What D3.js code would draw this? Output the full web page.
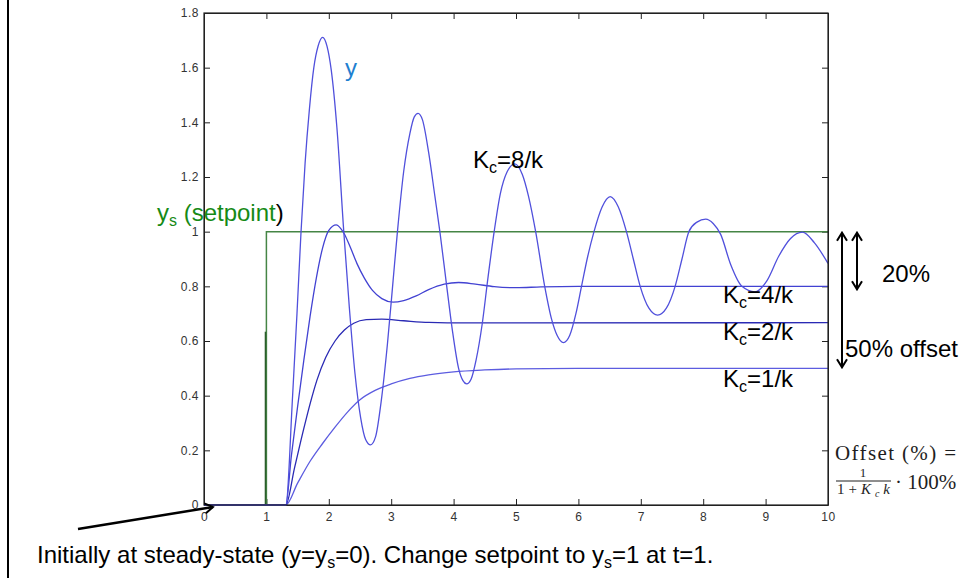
<!DOCTYPE html>
<html>
<head>
<meta charset="utf-8">
<script src="https://cdn.jsdelivr.net/npm/d3@7"></script>
<style>
body { margin: 0; background: #fff; }
svg { display: block; font-family: Arial, "Liberation Sans", sans-serif; }
.axis text { font-size: 12px; fill: #333; letter-spacing: 0.5px; }
.axis path, .axis line { stroke: #222; }
</style>
</head>
<body>
<div id="chart"></div>
<script>
// tick values and labels
var xTicks = [0, 1, 2, 3, 4, 5, 6, 7, 8, 9, 10];
var yTicks = [0, 0.2, 0.4, 0.6, 0.8, 1, 1.2, 1.4, 1.6, 1.8];
var yTickLabels = ["0", "0.2", "0.4", "0.6", "0.8", "1", "1.2", "1.4", "1.6", "1.8"];

// setpoint step (t, ys)
var setpoint = [[0, 0], [1, 0], [1, 1], [10, 1]];
var setpointEdge = [[0.985, 0], [0.985, 0.634]];

// responses (t, y)
var kc8 = [[0, 0], [1.31, 0], [1.42, 0.40], [1.49, 0.70], [1.555, 1.0], [1.62, 1.25], [1.69, 1.45],
  [1.76, 1.60], [1.83, 1.68], [1.90, 1.711], [1.97, 1.68], [2.04, 1.59], [2.13, 1.38], [2.24, 1.0],
  [2.33, 0.72], [2.42, 0.48], [2.51, 0.32], [2.59, 0.24], [2.67, 0.22], [2.75, 0.25], [2.84, 0.38],
  [2.94, 0.59], [3.03, 0.82], [3.10, 1.0], [3.20, 1.22], [3.30, 1.36], [3.37, 1.42], [3.43, 1.433],
  [3.50, 1.41], [3.60, 1.29], [3.70, 1.13], [3.78, 1.0], [3.89, 0.80], [3.98, 0.64], [4.08, 0.50],
  [4.15, 0.455], [4.21, 0.443], [4.28, 0.46], [4.36, 0.53], [4.46, 0.665], [4.55, 0.83], [4.65, 1.0],
  [4.75, 1.14], [4.86, 1.22], [4.98, 1.248], [5.10, 1.21], [5.20, 1.13], [5.315, 1.0], [5.46, 0.80],
  [5.57, 0.68], [5.66, 0.62], [5.76, 0.594], [5.86, 0.62], [5.96, 0.70], [6.05, 0.80], [6.15, 0.91],
  [6.25, 1.0], [6.38, 1.09], [6.51, 1.128], [6.64, 1.09], [6.77, 1.0], [6.88, 0.90], [6.99, 0.80],
  [7.13, 0.72], [7.27, 0.695], [7.41, 0.72], [7.55, 0.80], [7.66, 0.90], [7.77, 1.0], [7.90, 1.035],
  [8.04, 1.046], [8.16, 1.03], [8.28, 0.99], [8.44, 0.88], [8.62, 0.80], [8.83, 0.78], [9.02, 0.82],
  [9.21, 0.91], [9.40, 0.975], [9.59, 0.998], [9.78, 0.96], [10, 0.884]];

var kc4 = [[0, 0], [1.31, 0], [1.40, 0.18], [1.50, 0.36], [1.60, 0.53], [1.70, 0.69], [1.80, 0.83],
  [1.90, 0.94], [2.0, 1.005], [2.12, 1.025], [2.24, 0.995], [2.35, 0.94], [2.45, 0.884], [2.57, 0.83],
  [2.70, 0.785], [2.85, 0.755], [3.03, 0.742], [3.20, 0.748], [3.40, 0.765], [3.60, 0.788],
  [3.85, 0.808], [4.08, 0.814], [4.35, 0.808], [4.65, 0.799], [5.0, 0.795], [5.4, 0.798],
  [6.0, 0.80], [10, 0.80]];

var kc2 = [[0, 0], [1.31, 0], [1.45, 0.135], [1.60, 0.28], [1.70, 0.37], [1.81, 0.457], [1.95, 0.54],
  [2.10, 0.60], [2.25, 0.64], [2.40, 0.665], [2.60, 0.678], [2.85, 0.68], [3.2, 0.674], [3.6, 0.668],
  [4.2, 0.666], [10, 0.667]];

var kc1 = [[0, 0], [1.31, 0], [1.5, 0.08], [1.7, 0.16], [1.9, 0.225], [2.1, 0.285], [2.3, 0.34],
  [2.5, 0.385], [2.75, 0.42], [3.0, 0.443], [3.3, 0.463], [3.6, 0.476], [4.0, 0.487], [4.5, 0.494],
  [5, 0.498], [6, 0.5], [10, 0.5]];

var width = 962;
var height = 578;
var plotLeft = 204, plotRight = 828, plotTop = 13, plotBottom = 505;

var svg = d3.select("#chart")
  .append("svg")
  .attr("width", width)
  .attr("height", height);

var defs = svg.append("defs");
defs.append("marker")
  .attr("id", "head")
  .attr("viewBox", "0 0 12 12")
  .attr("refX", 10)
  .attr("refY", 6)
  .attr("markerWidth", 12)
  .attr("markerHeight", 12)
  .attr("markerUnits", "userSpaceOnUse")
  .attr("orient", "auto-start-reverse")
  .append("path")
  .attr("d", "M2,1 L10,6 L2,11")
  .attr("fill", "none")
  .attr("stroke", "#000")
  .attr("stroke-width", 2);

// left border of the slide
svg.append("line")
  .attr("x1", 8).attr("x2", 8)
  .attr("y1", 0).attr("y2", height)
  .attr("stroke", "#000")
  .attr("stroke-width", 2);

var xScale = d3.scaleLinear().domain([0, 10]).range([plotLeft, plotRight]);
var yScale = d3.scaleLinear().domain([0, 1.8]).range([plotBottom, plotTop]);

var xAxis = d3.axisBottom(xScale).tickValues(xTicks).tickSize(-6).tickSizeOuter(0).tickPadding(7);
var yAxis = d3.axisLeft(yScale).tickValues(yTicks).tickSize(-6).tickSizeOuter(0).tickPadding(5)
  .tickFormat(function(d, i) { return yTickLabels[i]; });

svg.append("g").attr("class", "axis")
  .attr("transform", "translate(0," + plotBottom + ")")
  .call(xAxis);
svg.append("g").attr("class", "axis")
  .attr("transform", "translate(" + plotLeft + ",0)")
  .call(yAxis);
svg.append("g").attr("class", "axis")
  .attr("transform", "translate(0," + plotTop + ")")
  .call(d3.axisTop(xScale).tickValues(xTicks).tickSize(-6).tickSizeOuter(0).tickFormat(""));
svg.append("g").attr("class", "axis")
  .attr("transform", "translate(" + plotRight + ",0)")
  .call(d3.axisRight(yScale).tickValues(yTicks).tickSize(-6).tickSizeOuter(0).tickFormat(""));

var line = d3.line()
  .x(function(d) { return xScale(d[0]); })
  .y(function(d) { return yScale(d[1]); });
var smooth = d3.line()
  .x(function(d) { return xScale(d[0]); })
  .y(function(d) { return yScale(d[1]); })
  .curve(d3.curveMonotoneX);

svg.append("path").datum(setpoint)
  .attr("d", line).attr("fill", "none")
  .attr("stroke", "#458545").attr("stroke-width", 1.5);
svg.append("path").datum(setpointEdge)
  .attr("d", line).attr("fill", "none")
  .attr("stroke", "#2c5e2c").attr("stroke-width", 1.5);

var series = [
  { data: kc1, color: "#5c5ce0" },
  { data: kc2, color: "#2a2ab4" },
  { data: kc4, color: "#4242d2" },
  { data: kc8, color: "#5050dc" }
];
series.forEach(function(s) {
  svg.append("path").datum(s.data)
    .attr("d", smooth).attr("fill", "none")
    .attr("stroke", s.color).attr("stroke-width", 1.3);
});

// frame
svg.append("rect")
  .attr("x", plotLeft).attr("y", plotTop)
  .attr("width", plotRight - plotLeft).attr("height", plotBottom - plotTop)
  .attr("fill", "none").attr("stroke", "#222").attr("stroke-width", 1.2);

// labels
function kcLabel(x, y, val) {
  var t = svg.append("text").attr("x", x).attr("y", y).attr("font-size", 24).attr("fill", "#000");
  t.append("tspan").text("K");
  t.append("tspan").attr("font-size", 16).attr("dy", 5).text("c");
  t.append("tspan").attr("dy", -5).text("=" + val + "/k");
}
kcLabel(473, 168, 8);
kcLabel(723, 303, 4);
kcLabel(723, 340, 2);
kcLabel(723, 387, 1);

svg.append("text").attr("x", 345).attr("y", 76)
  .attr("font-size", 24).attr("fill", "#1f7fd0").text("y");

var sp = svg.append("text").attr("x", 157).attr("y", 221).attr("font-size", 24).attr("fill", "#168a16");
sp.append("tspan").text("y");
sp.append("tspan").attr("font-size", 16).attr("dy", 5).text("s");
sp.append("tspan").attr("dy", -5).text(" (setpoint");
sp.append("tspan").attr("fill", "#000").text(")");

// offset arrows
svg.append("line")
  .attr("x1", 857).attr("x2", 857)
  .attr("y1", yScale(1) + 1).attr("y2", yScale(0.8) + 3)
  .attr("stroke", "#000").attr("stroke-width", 2)
  .attr("marker-start", "url(#head)").attr("marker-end", "url(#head)");
svg.append("line")
  .attr("x1", 842).attr("x2", 842)
  .attr("y1", yScale(1) + 1).attr("y2", yScale(0.5) - 1)
  .attr("stroke", "#000").attr("stroke-width", 2)
  .attr("marker-start", "url(#head)").attr("marker-end", "url(#head)");
svg.append("text").attr("x", 882).attr("y", 282).attr("font-size", 24).text("20%");
svg.append("text").attr("x", 845).attr("y", 357).attr("font-size", 24).text("50% offset");

// offset formula
var serif = "'Liberation Serif', 'Times New Roman', serif";
svg.append("text").attr("x", 835).attr("y", 460)
  .attr("font-family", serif).attr("font-size", 21).attr("fill", "#1e1e1e")
  .attr("textLength", 121).attr("lengthAdjust", "spacing")
  .text("Offset (%) =");
svg.append("text").attr("x", 863).attr("y", 477)
  .attr("font-family", serif).attr("font-size", 13).attr("text-anchor", "middle")
  .attr("fill", "#1e1e1e").text("1");
svg.append("line").attr("x1", 836).attr("x2", 891).attr("y1", 481).attr("y2", 481)
  .attr("stroke", "#1e1e1e").attr("stroke-width", 1);
var den = svg.append("text").attr("x", 837).attr("y", 494)
  .attr("font-family", serif).attr("font-size", 15).attr("fill", "#1e1e1e")
  .attr("textLength", 53).attr("lengthAdjust", "spacing");
den.append("tspan").text("1+");
den.append("tspan").attr("font-style", "italic").text("K");
den.append("tspan").attr("font-style", "italic").attr("font-size", 10).attr("dy", 3).text("c");
den.append("tspan").attr("font-style", "italic").attr("dy", -3).text("k");
svg.append("text").attr("x", 895).attr("y", 489)
  .attr("font-family", serif).attr("font-size", 21).attr("fill", "#1e1e1e")
  .text("\u00b7 100%");

// initial condition note
svg.append("line")
  .attr("x1", 78).attr("y1", 529)
  .attr("x2", 213).attr("y2", 507)
  .attr("stroke", "#000").attr("stroke-width", 2.5)
  .attr("marker-end", "url(#head)");

var note = svg.append("text").attr("x", 37).attr("y", 563).attr("font-size", 24).attr("fill", "#000");
note.append("tspan").text("Initially at steady-state (y=y");
note.append("tspan").attr("font-size", 16).attr("dy", 5).text("s");
note.append("tspan").attr("dy", -5).text("=0). Change setpoint to y");
note.append("tspan").attr("font-size", 16).attr("dy", 5).text("s");
note.append("tspan").attr("dy", -5).text("=1 at t=1.");
</script>
</body>
</html>
